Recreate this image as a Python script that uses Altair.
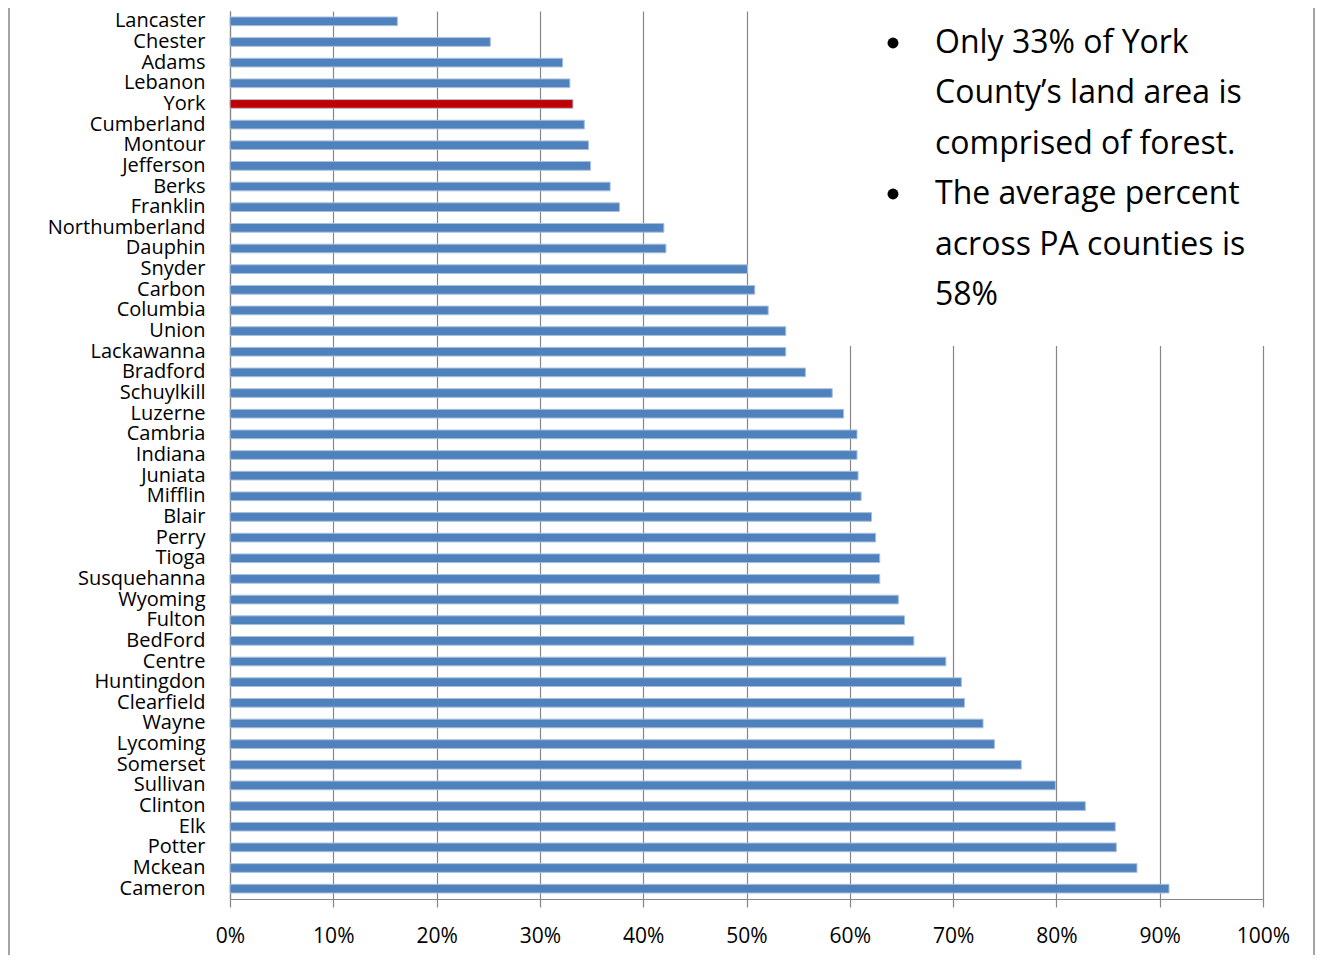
import altair as alt
import pandas as pd

counties = ["Lancaster", "Chester", "Adams", "Lebanon", "York", "Cumberland", "Montour",
            "Jefferson", "Berks", "Franklin", "Northumberland", "Dauphin", "Snyder", "Carbon",
            "Columbia", "Union", "Lackawanna", "Bradford", "Schuylkill", "Luzerne", "Cambria",
            "Indiana", "Juniata", "Mifflin", "Blair", "Perry", "Tioga", "Susquehanna", "Wyoming",
            "Fulton", "BedFord", "Centre", "Huntingdon", "Clearfield", "Wayne", "Lycoming",
            "Somerset", "Sullivan", "Clinton", "Elk", "Potter", "Mckean", "Cameron"]
forest_pct = [16.2, 25.2, 32.2, 32.9, 33.2, 34.3, 34.7,
              34.9, 36.8, 37.7, 42.0, 42.2, 50.1, 50.8,
              52.1, 53.8, 53.8, 55.7, 58.3, 59.4, 60.7,
              60.7, 60.8, 61.1, 62.1, 62.5, 62.9, 62.9, 64.7,
              65.3, 66.2, 69.3, 70.8, 71.1, 72.9, 74.0,
              76.6, 79.9, 82.8, 85.7, 85.8, 87.8, 90.9]
highlight = "York"
note_lines = ["Only 33% of York", "County\u2019s land area is", "comprised of forest.",
              "The average percent", "across PA counties is", "58%"]

df = pd.DataFrame({"county": counties, "pct": [v / 100 for v in forest_pct]})
one = pd.DataFrame({"k": [0]})

W, H = 1033, 888
FONT = "Open Sans"

bars = alt.Chart(df).mark_bar(stroke="#A7BFDE", strokeWidth=1).encode(
    x=alt.X("pct:Q", scale=alt.Scale(domain=[0, 1], nice=False),
            axis=alt.Axis(format="%", values=[i / 10 for i in range(11)], title=None,
                          grid=True, gridColor="#868686", gridWidth=1.2,
                          domainColor="#868686", domainWidth=1.2,
                          tickColor="#868686", tickSize=8, tickWidth=1.2,
                          labelFont=FONT, labelFontSize=21, labelColor="#000000",
                          labelPadding=18, labelFlush=False)),
    y=alt.Y("county:N", sort=counties,
            scale=alt.Scale(paddingInner=0.58, paddingOuter=0.29),
            axis=alt.Axis(title=None, ticks=False, domainColor="#868686", domainWidth=1.2,
                          labelFont=FONT, labelFontSize=20, labelColor="#000000",
                          labelPadding=25, grid=False)),
    color=alt.condition(alt.datum.county == highlight, alt.value("#C00000"), alt.value("#4F81BD")),
)

box = alt.Chart(one).mark_rect(fill="white", stroke="white", strokeWidth=0).encode(
    x=alt.value(570), x2=alt.value(1090), y=alt.value(-11), y2=alt.value(335))

frame_right = alt.Chart(one).mark_rule(color="#868686", strokeWidth=1.5).encode(
    x=alt.value(1084), y=alt.value(-11), y2=alt.value(H + 60))
frame_left = alt.Chart(one).mark_rule(color="#868686", strokeWidth=1.5).encode(
    x=alt.value(-221), y=alt.value(-11), y2=alt.value(H + 60))

note = alt.Chart(one).mark_text(
    text=note_lines, font=FONT, fontSize=32, align="left", baseline="alphabetic",
    lineHeight=50.4, color="#000000").encode(x=alt.value(705), y=alt.value(42))

bullet1 = alt.Chart(one).mark_circle(color="#000000", opacity=1, size=120).encode(
    x=alt.value(663), y=alt.value(32))
bullet2 = alt.Chart(one).mark_circle(color="#000000", opacity=1, size=120).encode(
    x=alt.value(663), y=alt.value(183))

chart = alt.layer(bars, box, frame_right, frame_left, note, bullet1, bullet2).properties(
    width=W, height=H,
    background="white",
    autosize=alt.AutoSizeParams(type="none"),
    padding={"left": 222, "top": 3, "right": 52, "bottom": 56},
).configure_view(stroke=None, strokeWidth=0)

chart.save("out.html", embed_options={"renderer": "svg", "actions": False})
